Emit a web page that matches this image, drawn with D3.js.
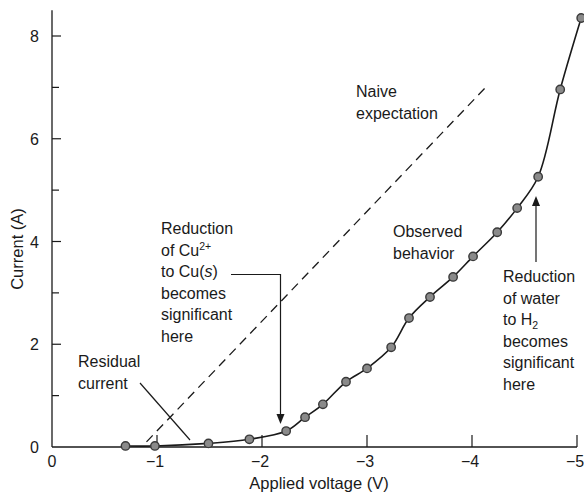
<!DOCTYPE html>
<html><head><meta charset="utf-8">
<script src="https://cdn.jsdelivr.net/npm/d3@7"></script>
<style>
body{margin:0;background:#fff;}
svg{display:block;font-family:"Liberation Sans",Arial,Helvetica,sans-serif;}
</style></head>
<body><svg id="c" width="584" height="494"></svg>
<script>
const voltage = [-0.70, -0.98, -1.49, -1.88, -2.23, -2.41, -2.58, -2.80, -3.00, -3.23, -3.40, -3.60, -3.82, -4.01, -4.24, -4.43, -4.63, -4.84, -5.04];
const current = [0.02, 0.02, 0.07, 0.15, 0.31, 0.58, 0.83, 1.27, 1.53, 1.94, 2.51, 2.92, 3.31, 3.71, 4.18, 4.65, 5.26, 6.96, 8.35];
const naiveV = [-0.90, -4.13];
const naiveI = [0.10, 7.00];
const xTicks = [0, -1, -2, -3, -4, -5];
const xTickLabels = ["0", "\u22121", "\u22122", "\u22123", "\u22124", "\u22125"];
const yMajor = [0, 2, 4, 6, 8];
const yMinor = [1, 3, 5, 7];

const svg = d3.select("#c");
const x = d3.scaleLinear().domain([0, -5]).range([52, 577]);
const y = d3.scaleLinear().domain([0, 8]).range([447, 36]);
const ink = "#1a1a1a";

// axes
svg.append("line").attr("x1", x(0)).attr("x2", x(0)).attr("y1", y(0)).attr("y2", y(8.5))
  .attr("stroke", ink).attr("stroke-width", 1.3);
svg.append("line").attr("x1", x(0)).attr("x2", x(-5)).attr("y1", y(0)).attr("y2", y(0))
  .attr("stroke", ink).attr("stroke-width", 1.3);

// x ticks (inward, upward)
svg.selectAll(".xt").data(xTicks.slice(1)).enter().append("line")
  .attr("x1", d => x(d)).attr("x2", d => x(d)).attr("y1", y(0)).attr("y2", y(0) - 12)
  .attr("stroke", ink).attr("stroke-width", 1.2);
svg.selectAll(".xl").data(xTicks).enter().append("text")
  .attr("x", (d, i) => x(d) - (i === 0 ? 0 : 2)).attr("y", y(0) + 20)
  .attr("text-anchor", "middle").attr("font-size", 16).attr("fill", ink)
  .text((d, i) => xTickLabels[i]);

// y ticks
svg.selectAll(".yt").data(yMajor.slice(1)).enter().append("line")
  .attr("x1", x(0)).attr("x2", x(0) + 9).attr("y1", d => y(d)).attr("y2", d => y(d))
  .attr("stroke", ink).attr("stroke-width", 1.2);
svg.selectAll(".ym").data(yMinor).enter().append("line")
  .attr("x1", x(0)).attr("x2", x(0) + 7).attr("y1", d => y(d)).attr("y2", d => y(d))
  .attr("stroke", ink).attr("stroke-width", 1.2);
svg.selectAll(".yl").data(yMajor).enter().append("text")
  .attr("x", 39).attr("y", d => y(d) + 6)
  .attr("text-anchor", "end").attr("font-size", 16).attr("fill", ink)
  .text(d => d);

// axis titles
svg.append("text").attr("x", 319).attr("y", 489).attr("text-anchor", "middle")
  .attr("font-size", 16.5).attr("fill", ink).text("Applied voltage (V)");
svg.append("text").attr("transform", "translate(23,249) rotate(-90)").attr("text-anchor", "middle")
  .attr("font-size", 16.5).attr("fill", ink).text("Current (A)");

// naive expectation dashed line
svg.append("line").attr("x1", x(naiveV[0])).attr("y1", y(naiveI[0]))
  .attr("x2", x(naiveV[1])).attr("y2", y(naiveI[1]))
  .attr("stroke", ink).attr("stroke-width", 1.3).attr("stroke-dasharray", "9,6");

// data line
const pts = voltage.map((v, i) => [v, current[i]]);
svg.append("path").datum(pts)
  .attr("d", d3.line().x(d => x(d[0])).y(d => y(d[1])).curve(d3.curveCatmullRom.alpha(0.5)))
  .attr("fill", "none").attr("stroke", ink).attr("stroke-width", 1.6);
svg.selectAll(".pt").data(pts).enter().append("circle")
  .attr("cx", d => x(d[0])).attr("cy", d => y(d[1])).attr("r", 4.2)
  .attr("fill", "#8a8a8a").attr("stroke", "#3a3a3a").attr("stroke-width", 1.4);

// annotations
function block(lines, x0, y0, dy) {
  lines.forEach((ln, i) => {
    const t = svg.append("text").attr("x", x0).attr("y", y0 + i * dy)
      .attr("font-size", 16).attr("fill", ink);
    ln.forEach(part => {
      const s = t.append("tspan").text(part.t);
      if (part.sup) s.attr("font-size", 10.5).attr("dy", -6);
      if (part.sub) s.attr("font-size", 10.5).attr("dy", 4);
      if (part.it) s.attr("font-style", "italic");
    });
  });
}
block([[{t:"Naive"}],[{t:"expectation"}]], 356, 97, 21.5);
block([[{t:"Observed"}],[{t:"behavior"}]], 393, 237, 21.5);
block([[{t:"Residual"}],[{t:"current"}]], 78, 367, 21.5);
block([[{t:"Reduction"}],[{t:"of Cu"},{t:"2+",sup:true}],[{t:"to Cu("},{t:"s",it:true},{t:")"}],
       [{t:"becomes"}],[{t:"significant"}],[{t:"here"}]], 161, 234, 21.6);
block([[{t:"Reduction"}],[{t:"of water"}],[{t:"to H"},{t:"2",sub:true}],
       [{t:"becomes"}],[{t:"significant"}],[{t:"here"}]], 503, 282, 21.6);

// leader lines
svg.append("line").attr("x1", 140).attr("y1", 383).attr("x2", 190).attr("y2", 440)
  .attr("stroke", ink).attr("stroke-width", 1.2);
svg.append("path").attr("d", "M231,274.5 H280.5 V416")
  .attr("fill", "none").attr("stroke", ink).attr("stroke-width", 1.2);
svg.append("path").attr("d", "M276.5,414 L284.5,414 L280.5,424 Z").attr("fill", ink);
svg.append("line").attr("x1", 536).attr("y1", 262).attr("x2", 536).attr("y2", 204)
  .attr("stroke", ink).attr("stroke-width", 1.2);
svg.append("path").attr("d", "M532,206 L540,206 L536,196 Z").attr("fill", ink);
</script></body></html>
